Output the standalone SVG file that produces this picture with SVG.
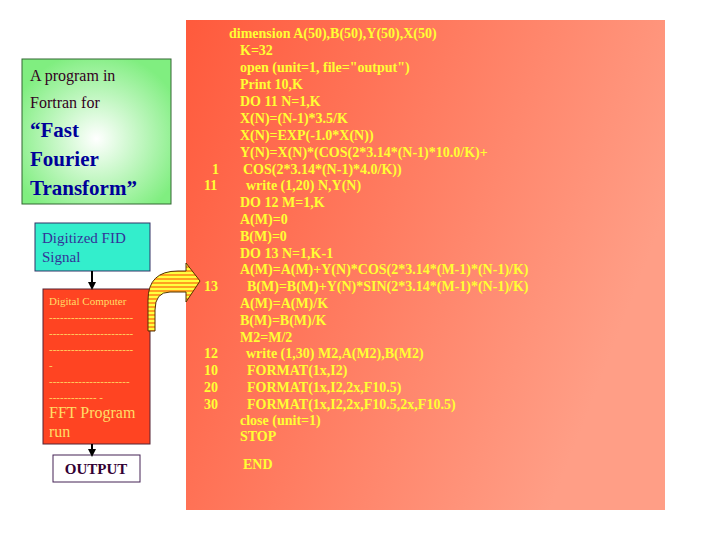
<svg xmlns="http://www.w3.org/2000/svg" width="720" height="540" viewBox="0 0 720 540">
<defs>
<linearGradient id="pg" x1="0" y1="0" x2="1" y2="0.4"><stop offset="0" stop-color="#ff5a3c"/><stop offset="1" stop-color="#ff9e86"/></linearGradient>
<radialGradient id="gg" cx="0.5" cy="0.55" r="0.6"><stop offset="0" stop-color="#ffffff"/><stop offset="1" stop-color="#80ee80"/></radialGradient>
<pattern id="st" width="6" height="4" patternUnits="userSpaceOnUse"><rect width="6" height="4" fill="#ffff40"/><rect y="2" width="6" height="2" fill="#ffa020"/></pattern>
<marker id="ah" markerWidth="8" markerHeight="8" refX="6" refY="4" orient="auto" markerUnits="userSpaceOnUse"><path d="M0,0 L8,4 L0,8 z" fill="#000"/></marker>
<style>
.code{font-family:"Liberation Serif",serif;font-size:14px;font-weight:bold;fill:#ffff33}
.t{font-family:"Liberation Serif",serif}
</style>
</defs>
<rect width="720" height="540" fill="#fff"/>
<g id="panel">
<rect x="186" y="20" width="479" height="490" fill="url(#pg)"/>
<g class="code">
<text x="229" y="38">dimension A(50),B(50),Y(50),X(50)</text>
<text x="240" y="55">K=32</text>
<text x="240" y="72">open (unit=1, file="output")</text>
<text x="240" y="89">Print 10,K</text>
<text x="240" y="106">DO 11 N=1,K</text>
<text x="240" y="123">X(N)=(N-1)*3.5/K</text>
<text x="240" y="140">X(N)=EXP(-1.0*X(N))</text>
<text x="240" y="157">Y(N)=X(N)*(COS(2*3.14*(N-1)*10.0/K)+</text>
<text x="212" y="174">1</text><text x="243" y="174">COS(2*3.14*(N-1)*4.0/K))</text>
<text x="204" y="190">11</text><text x="246" y="190">write (1,20) N,Y(N)</text>
<text x="240" y="207">DO 12 M=1,K</text>
<text x="240" y="224">A(M)=0</text>
<text x="240" y="241">B(M)=0</text>
<text x="240" y="258">DO 13 N=1,K-1</text>
<text x="240" y="274">A(M)=A(M)+Y(N)*COS(2*3.14*(M-1)*(N-1)/K)</text>
<text x="204" y="291">13</text><text x="247" y="291">B(M)=B(M)+Y(N)*SIN(2*3.14*(M-1)*(N-1)/K)</text>
<text x="240" y="308">A(M)=A(M)/K</text>
<text x="240" y="325">B(M)=B(M)/K</text>
<text x="240" y="342">M2=M/2</text>
<text x="204" y="358">12</text><text x="246" y="358">write (1,30) M2,A(M2),B(M2)</text>
<text x="204" y="375">10</text><text x="247" y="375">FORMAT(1x,I2)</text>
<text x="204" y="392">20</text><text x="247" y="392">FORMAT(1x,I2,2x,F10.5)</text>
<text x="204" y="409">30</text><text x="247" y="409">FORMAT(1x,I2,2x,F10.5,2x,F10.5)</text>
<text x="240" y="425">close (unit=1)</text>
<text x="240" y="441">STOP</text>
<text x="243" y="469">END</text>
</g>
</g>
<g id="title">
<rect x="22" y="59" width="149" height="145" fill="url(#gg)" stroke="#336633" stroke-width="1"/>
<text class="t" x="30" y="81" font-size="16" fill="#330022">A program in</text>
<text class="t" x="30" y="108" font-size="16" fill="#330022">Fortran for</text>
<text class="t" x="30" y="137" font-size="21" font-weight="bold" fill="#000099">“Fast</text>
<text class="t" x="30" y="166" font-size="21" font-weight="bold" fill="#000099">Fourier</text>
<text class="t" x="30" y="195" font-size="21" font-weight="bold" fill="#000099">Transform”</text>
</g>
<g id="fid">
<rect x="35" y="223" width="115" height="48" fill="#33eecc" stroke="#333366"/>
<text class="t" x="42" y="243" font-size="15" fill="#333399">Digitized FID</text>
<text class="t" x="42" y="262" font-size="15" fill="#333399">Signal</text>
</g>
<g id="computer">
<rect x="43" y="289" width="107" height="155" fill="#ff4422" stroke="#552233"/>
<g class="t" fill="#ffdd66" font-size="11">
<text x="49" y="305">Digital Computer</text>
<text x="49" y="321">-----------------------</text>
<text x="49" y="337">-----------------------</text>
<text x="49" y="353">-----------------------</text>
<text x="49" y="369">-</text>
<text x="49" y="385">----------------------</text>
<text x="49" y="401">-------------       -</text>
</g>
<text class="t" x="49" y="418" font-size="16" fill="#ffdd66">FFT Program</text>
<text class="t" x="49" y="437" font-size="16" fill="#ffdd66">run</text>
</g>
<g id="output">
<rect x="53" y="455" width="87" height="27" fill="#fff" stroke="#442255"/>
<text class="t" x="96" y="474" font-size="15" font-weight="bold" fill="#330033" text-anchor="middle">OUTPUT</text>
</g>
<g id="connectors">
<line x1="92" y1="271" x2="92" y2="288" stroke="#000" stroke-width="2" marker-end="url(#ah)"/>
<line x1="92" y1="444" x2="92" y2="455" stroke="#000" stroke-width="2" marker-end="url(#ah)"/>
<path d="M148,331 L148,300 Q148,271 178,271 L186,271 L186,263 L200,281 L186,302 L186,292 L170,292 Q155,292 155,310 L155,331 Z" fill="url(#st)" stroke="#553300" stroke-width="1"/>
</g>
</svg>
